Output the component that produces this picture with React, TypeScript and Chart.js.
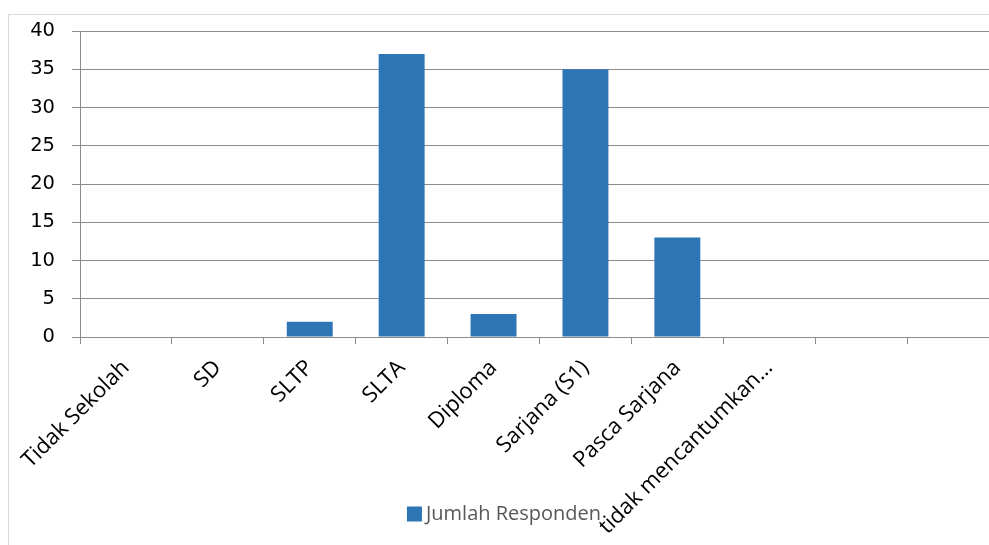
import React, { useEffect, useRef } from "react";
import { Chart, registerables } from "chart.js";

Chart.register(...registerables);

const categories = [
  "Tidak Sekolah",
  "SD",
  "SLTP",
  "SLTA",
  "Diploma",
  "Sarjana (S1)",
  "Pasca Sarjana",
  "tidak mencantumkan…",
  "",
  "",
];
const seriesName = "Jumlah Responden";
const values: (number | null)[] = [0, 0, 2, 37, 3, 35, 13, 0, null, null];
const yTicks = [0, 5, 10, 15, 20, 25, 30, 35, 40];
const barColor = "#2E75B6";

const bottomLegend = {
  id: "bottomLegend",
  afterDraw(chart: any) {
    const ctx = chart.ctx;
    const ds = chart.data.datasets[0];
    ctx.save();
    ctx.font = "20px 'Open Sans', sans-serif";
    const tw = ctx.measureText(ds.label).width;
    const box = 15;
    const gap = 4;
    const total = box + gap + tw;
    const x0 = chart.width / 2 - total / 2;
    const cy = 499;
    ctx.fillStyle = ds.backgroundColor;
    ctx.fillRect(x0, cy - box / 2, box, box);
    ctx.fillStyle = "#595959";
    ctx.textBaseline = "middle";
    ctx.textAlign = "left";
    ctx.fillText(ds.label, x0 + box + gap, cy);
    ctx.restore();
  },
};

export default function App() {
  const ref = useRef<HTMLCanvasElement>(null);
  useEffect(() => {
    if (!ref.current) return;
    const chart = new Chart(ref.current, {
      type: "bar",
      data: {
        labels: categories,
        datasets: [
          {
            label: seriesName,
            data: values,
            backgroundColor: barColor,
            borderWidth: 0,
            categoryPercentage: 1,
            barPercentage: 0.5,
          },
        ],
      },
      plugins: [bottomLegend],
      options: {
        animation: false,
        responsive: false,
        devicePixelRatio: 1,
        layout: { padding: { top: 16, left: 0, right: 0, bottom: 0 } },
        plugins: {
          tooltip: { enabled: false },
          legend: { display: false },
        },
        scales: {
          x: {
            offset: true,
            grid: {
              offset: true,
              drawOnChartArea: false,
              drawTicks: true,
              tickLength: 7,
              color: "#8c8c8c",
            },
            border: { color: "#8c8c8c", width: 1 },
            ticks: {
              autoSkip: false,
              maxRotation: 45,
              minRotation: 45,
              color: "#000000",
              padding: 11,
              font: { family: "'Open Sans', sans-serif", size: 22 },
            },
            afterFit: (scale: any) => {
              scale.height = 213;
            },
          },
          y: {
            min: 0,
            max: 40,
            afterBuildTicks: (scale: any) => {
              scale.ticks = yTicks.map((v) => ({ value: v }));
            },
            grid: {
              color: "#8c8c8c",
              tickLength: 8,
              drawTicks: true,
            },
            border: { color: "#8c8c8c", width: 1 },
            ticks: {
              color: "#000000",
              padding: 17,
              font: { family: "'DejaVu Sans', sans-serif", size: 19.5 },
            },
            afterFit: (scale: any) => {
              scale.width = 71;
              scale.paddingTop = 10;
              scale.paddingBottom = 10;
            },
          },
        },
      },
    });
    return () => chart.destroy();
  }, []);
  return (
    <div
      style={{
        position: "fixed",
        left: 8,
        top: 14,
        width: 990,
        height: 535,
        border: "1px solid #d9d9d9",
        background: "#ffffff",
      }}
    >
      <canvas ref={ref} width={990} height={535} style={{ display: "block" }} />
    </div>
  );
}
